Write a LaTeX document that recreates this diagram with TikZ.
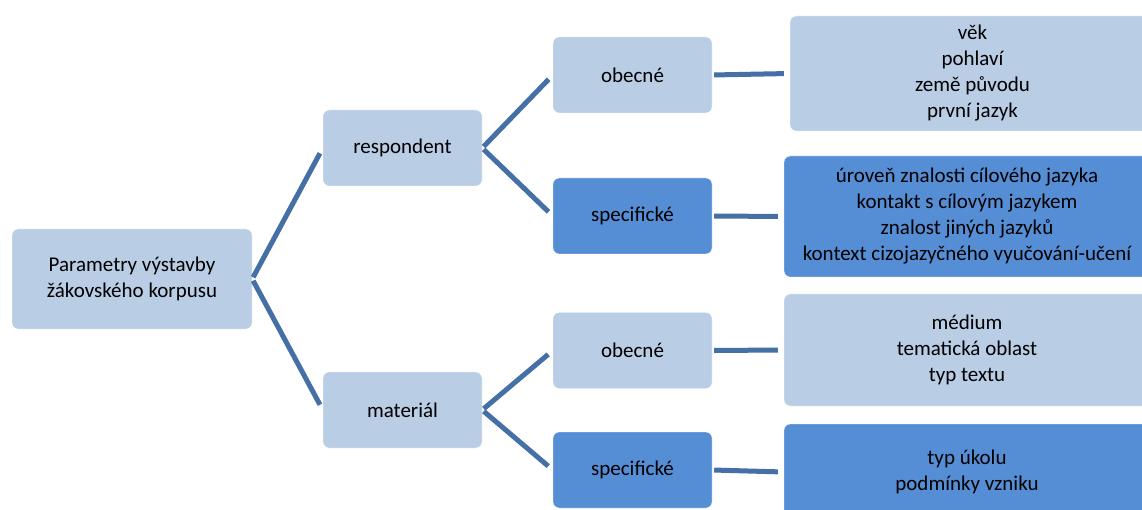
\documentclass[tikz,border=0pt]{standalone}
\usepackage{fontspec}
\setmainfont{Carlito}
\usetikzlibrary{positioning}
\definecolor{lightblue}{RGB}{185,205,229}
\definecolor{midblue}{RGB}{85,142,213}
\definecolor{linkblue}{RGB}{68,112,165}

\begin{document}
\begin{tikzpicture}[x=1pt,y=-1pt,
    lightbox/.style={fill=lightblue, draw=white, rounded corners=6pt, align=center,
      inner sep=0pt, font=\fontsize{21}{26}\selectfont},
    darkbox/.style={lightbox, fill=midblue},
    link/.style={linkblue, line width=5pt, shorten <=2pt, shorten >=6pt}]
        % page frame
        \useasboundingbox (0,0) rectangle (1142,510);
        % root
        \node[lightbox, minimum width=240pt, minimum height=100pt] (root) at (132,279)
          {Parametry výstavby\\žákovského korpusu};
        % second level
        \node[lightbox, minimum width=159pt, minimum height=76pt] (resp) at (402.5,148) {respondent};
        \node[lightbox, minimum width=159pt, minimum height=76pt] (mat) at (402.5,410) {materiál};
        % third level
        \node[lightbox, minimum width=159pt, minimum height=76pt] (respgen) at (632.5,75) {obecné};
        \node[darkbox, minimum width=159pt, minimum height=76pt] (respspec) at (632.5,216) {specifické};
        \node[lightbox, minimum width=159pt, minimum height=76pt] (matgen) at (632.5,350.5) {obecné};
        \node[darkbox, minimum width=159pt, minimum height=76pt] (matspec) at (632.5,470) {specifické};
        % lists
        \node[lightbox, minimum width=365pt, minimum height=115pt] (respgenlist) at (972.5,73.5)
          {věk\\pohlaví\\země původu\\první jazyk};
        \node[darkbox, minimum width=366pt, minimum height=121pt] (respspeclist) at (967,216.5)
          {úroveň znalosti cílového jazyka\\kontakt s cílovým jazykem\\znalost jiných jazyků\\kontext cizojazyčného vyučování-učení};
        \node[lightbox, minimum width=366pt, minimum height=112pt] (matgenlist) at (967,350)
          {médium\\tematická oblast\\typ textu};
        \node[darkbox, minimum width=366pt, minimum height=96pt] (matspeclist) at (967,472)
          {typ úkolu\\podmínky vzniku};
        % connectors
        \draw[link] (root.east) -- (resp.west);
        \draw[link] (root.east) -- (mat.west);
        \draw[link] (resp.east) -- (respgen.west);
        \draw[link] (resp.east) -- (respspec.west);
        \draw[link] (mat.east) -- (matgen.west);
        \draw[link] (mat.east) -- (matspec.west);
        \draw[link] (respgen.east) -- (respgenlist.west);
        \draw[link] (respspec.east) -- (respspeclist.west);
        \draw[link] (matgen.east) -- (matgenlist.west);
        \draw[link] (matspec.east) -- (matspeclist.west);
\end{tikzpicture}
\end{document}
